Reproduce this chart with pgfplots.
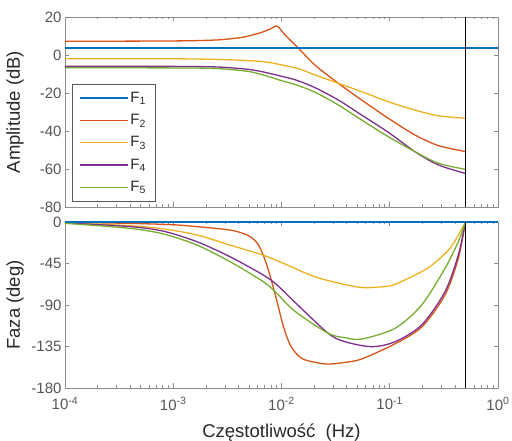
\documentclass[border=0pt]{standalone}
\usepackage{fontspec}
\setmainfont{Liberation Sans}
\usepackage{pgfplots}
\pgfplotsset{compat=1.18}

\definecolor{mblue}{RGB}{0,114,189}
\definecolor{mred}{RGB}{217,83,25}
\definecolor{myellow}{RGB}{237,177,32}
\definecolor{mpurple}{RGB}{126,47,142}
\definecolor{mgreen}{RGB}{119,172,48}
\definecolor{axgray}{RGB}{140,140,140}
\definecolor{ticgray}{RGB}{85,85,85}
\definecolor{labgray}{RGB}{40,40,40}

\begin{document}
\begin{tikzpicture}
\path[use as bounding box] (-65pt,207pt) rectangle (447pt,-234pt);

% amplitude
\begin{axis}[width=433pt, height=190pt, scale only axis,
  at={(0,0)}, anchor=south west,
  xmode=log, xmin=1e-4, xmax=1,
  xtick={1e-4,1e-3,1e-2,1e-1,1},
  xticklabel=\empty,
  ymin=-80, ymax=20, ytick={-80,-60,-40,-20,0,20},
  axis line style={axgray, line width=0.8pt},
  every tick/.style={axgray, line width=0.6pt},
  major tick length=4.5pt, minor tick length=2.5pt,
  tick label style={font=\fontsize{15}{15}\selectfont, text=ticgray},
  label style={font=\fontsize{18.5}{18.5}\selectfont, text=labgray},
  /pgf/number format/assume math mode=true,
  clip=false,
  ylabel={Amplitude (dB)},
  ylabel style={at={(axis description cs:-0.115,0.5)}, anchor=center},
  legend cell align=left,
  legend style={at={(axis description cs:0.016,0.03)}, anchor=south west,
    draw=black!65, fill=white,
    font=\fontsize{15}{15}\selectfont, text=labgray,
    row sep=6.5pt, inner xsep=7pt, inner ysep=6pt},
]
\addplot[mred, line width=1.3pt, smooth, forget plot] coordinates {(1e-4,7.2)(1e-3,7.4)(2.5e-3,7.9)(3.98e-3,9.0)(4.79e-3,9.8)(6.31e-3,11.6)(7.94e-3,13.8)(8.91e-3,15.3)(9.55e-3,14.3)(0.01,12.8)(0.0112,9.6)(0.0141,4.0)(0.0204,-5.3)(0.0335,-14.9)(0.055,-23.7)(0.097,-33.3)(0.171,-42.1)(0.282,-47.7)(0.5,-50.8)};
\addplot[myellow, line width=1.3pt, smooth, forget plot] coordinates {(1e-4,-2)(1e-3,-2.0)(3.16e-3,-2.5)(6.76e-3,-3.5)(0.01,-5.2)(0.0143,-7.2)(0.0204,-10.5)(0.0335,-14.9)(0.055,-19.3)(0.097,-24.6)(0.171,-29)(0.282,-32)(0.5,-33.3)};
\addplot[mpurple, line width=1.3pt, smooth, forget plot] coordinates {(1e-4,-6.0)(1e-3,-6.0)(2.2e-3,-6.2)(3.16e-3,-6.6)(5.01e-3,-7.6)(6.76e-3,-8.9)(0.01,-11.2)(0.0138,-13.3)(0.0204,-17.2)(0.0335,-23.7)(0.055,-31.6)(0.097,-40.7)(0.171,-50.9)(0.282,-57.9)(0.5,-62.3)};
\addplot[mgreen, line width=1.3pt, smooth, forget plot] coordinates {(1e-4,-6.7)(1e-3,-6.8)(2.2e-3,-7.0)(3.16e-3,-7.5)(5.01e-3,-8.7)(6.76e-3,-10.5)(0.01,-13.5)(0.0138,-15.8)(0.0204,-19.6)(0.0335,-26.3)(0.055,-34.2)(0.097,-43)(0.171,-50.9)(0.282,-57)(0.5,-60.2)};
\addplot[draw=mblue, line width=1.5pt, forget plot] coordinates {(1e-4,3.6)(1e-2,3.6)(1,3.6)};
\addplot[black, line width=1.2pt, forget plot] coordinates {(0.5,-80)(0.5,20)};
\addlegendimage{legend image code/.code={\draw[mblue, line width=1.3pt] (0pt,0pt) -- (48pt,0pt);}}
\addlegendentry{F\textsubscript{1}}
\addlegendimage{legend image code/.code={\draw[mred, line width=1.3pt] (0pt,0pt) -- (48pt,0pt);}}
\addlegendentry{F\textsubscript{2}}
\addlegendimage{legend image code/.code={\draw[myellow, line width=1.3pt] (0pt,0pt) -- (48pt,0pt);}}
\addlegendentry{F\textsubscript{3}}
\addlegendimage{legend image code/.code={\draw[mpurple, line width=1.3pt] (0pt,0pt) -- (48pt,0pt);}}
\addlegendentry{F\textsubscript{4}}
\addlegendimage{legend image code/.code={\draw[mgreen, line width=1.3pt] (0pt,0pt) -- (48pt,0pt);}}
\addlegendentry{F\textsubscript{5}}
\end{axis}

% phase
\begin{axis}[width=433pt, height=166pt, scale only axis,
  at={(0,-15pt)}, anchor=north west,
  xmode=log, xmin=1e-4, xmax=1,
  xtick={1e-4,1e-3,1e-2,1e-1,1},
  xticklabels={{10\textsuperscript{-4}},{10\textsuperscript{-3}},{10\textsuperscript{-2}},{10\textsuperscript{-1}},{10\textsuperscript{0}}},
  xticklabel style={yshift=-6pt},
  ymin=-180, ymax=0, ytick={-180,-135,-90,-45,0},
  axis line style={axgray, line width=0.8pt},
  every tick/.style={axgray, line width=0.6pt},
  major tick length=4.5pt, minor tick length=2.5pt,
  tick label style={font=\fontsize{15}{15}\selectfont, text=ticgray},
  label style={font=\fontsize{18.5}{18.5}\selectfont, text=labgray},
  /pgf/number format/assume math mode=true,
  clip=false,
  xlabel={Częstotliwość\ \ (Hz)},
  xlabel style={at={(axis description cs:0.5,-0.271)}, anchor=center},
  ylabel={Faza (deg)},
  ylabel style={at={(axis description cs:-0.115,0.5)}, anchor=center},
]
\addplot[mred, line width=1.3pt, smooth] coordinates {(1e-4,-0.3)(3.98e-4,-1.5)(1e-3,-3)(1.65e-3,-5)(3.34e-3,-8.7)(4.79e-3,-14)(5.89e-3,-22)(6.79e-3,-36)(7.83e-3,-58)(9.04e-3,-85)(0.0104,-113)(0.012,-133)(0.0143,-145)(0.017,-150)(0.0261,-154)(0.0398,-152)(0.055,-148.5)(0.108,-133)(0.197,-114)(0.324,-79)(0.43,-39.4)(0.5,0)};
\addplot[myellow, line width=1.3pt, smooth] coordinates {(1e-4,-0.8)(3.98e-4,-4)(8.13e-4,-7.5)(1.65e-3,-14)(3.34e-3,-25)(6.79e-3,-36)(0.0105,-45)(0.0211,-60)(0.0501,-70.5)(0.0794,-70.5)(0.112,-67.5)(0.224,-50)(0.363,-28)(0.5,0)};
\addplot[mpurple, line width=1.3pt, smooth] coordinates {(1e-4,-1.0)(3.98e-4,-5)(8.13e-4,-10)(1.65e-3,-21.3)(3.34e-3,-37.6)(6.79e-3,-57.5)(9.04e-3,-68)(0.0133,-87)(0.027,-120.7)(0.0386,-129.8)(0.0681,-135.2)(0.112,-129.8)(0.197,-111.7)(0.324,-75.6)(0.43,-35.8)(0.5,0)};
\addplot[mgreen, line width=1.3pt, smooth] coordinates {(1e-4,-1.4)(3.98e-4,-6.9)(8.13e-4,-13)(1.65e-3,-24.9)(3.34e-3,-43)(6.79e-3,-64.7)(9.04e-3,-77.3)(0.0133,-96.8)(0.027,-120.7)(0.0386,-125.4)(0.055,-126.9)(0.112,-115.3)(0.197,-90)(0.324,-50.2)(0.43,-21.3)(0.5,0)};
\addplot[mblue, line width=1.3pt] coordinates {(1e-4,0)(1e-2,0)(1,0)};
\addplot[black, line width=1.2pt] coordinates {(0.5,-180)(0.5,0)};
\end{axis}
\end{tikzpicture}
\end{document}
